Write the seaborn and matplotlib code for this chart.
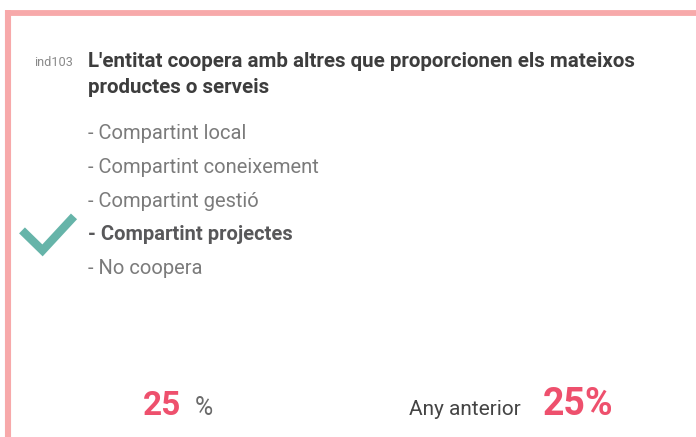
import matplotlib
matplotlib.use("Agg")
import matplotlib.pyplot as plt
import seaborn as sns
import pandas as pd

# Card content
indicator_code = "ind103"
title_lines = ["L'entitat coopera amb altres que proporcionen els mateixos",
               "productes o serveis"]
options = ["- Compartint local", "- Compartint coneixement", "- Compartint gestió",
           "- Compartint projectes", "- No coopera"]
selected = 3
value_now = 25
value_prev = 25
prev_label = "Any anterior"

# Colours
border_col = "#f7a9aa"
check_col = "#66b4a9"
red = "#ee506d"

sns.set_theme(style="white")
plt.rcParams['font.family'] = ['Roboto', 'DejaVu Sans']

W, H = 696, 437
fig = plt.figure(figsize=(W / 100, H / 100), dpi=100)
ax = fig.add_axes([0, 0, 1, 1])

# pink frame (top + left)
ax.plot([5, W], [12.8, 12.8], color=border_col, lw=4.2, solid_capstyle="butt")
ax.plot([8.3, 8.3], [10, H], color=border_col, lw=4.4, solid_capstyle="butt")

# header
ax.text(34, 66, indicator_code, fontsize=9.2, color="#8a8a8a", va="baseline")
for i, line in enumerate(title_lines):
    ax.text(88, 67 + i * 26, line, fontsize=14.8, fontweight="bold",
            color="#3d3d3d", va="baseline")

# options list
y0, step = 139, 33.8
for i, opt in enumerate(options):
    is_sel = i == selected
    ax.text(88, y0 + i * step, opt, fontsize=14.5,
            fontweight="bold" if is_sel else "normal",
            color="#58585a" if is_sel else "#7b7b7b", va="baseline")

# check mark beside the selected option
ys = y0 + selected * step
check = pd.DataFrame({"x": [22, 42.5, 74], "y": [ys - 10, ys + 10, ys - 24]})
sns.lineplot(data=check, x="x", y="y", sort=False, ax=ax, color=check_col,
             lw=6, solid_capstyle="butt", solid_joinstyle="miter")

# values
ax.text(143, 415, f"{value_now}", fontsize=24, fontweight="bold", color=red, va="baseline")
ax.text(195, 415, "%", fontsize=18, color="#6a6a6a", va="baseline")
ax.text(409, 415, prev_label, fontsize=15, color="#444444", va="baseline")
ax.text(543, 415, f"{value_prev}%", fontsize=27, fontweight="bold", color=red, va="baseline")

ax.set_xlim(0, W)
ax.set_ylim(H, 0)
ax.axis("off")

fig.savefig("out.png", dpi=100)
